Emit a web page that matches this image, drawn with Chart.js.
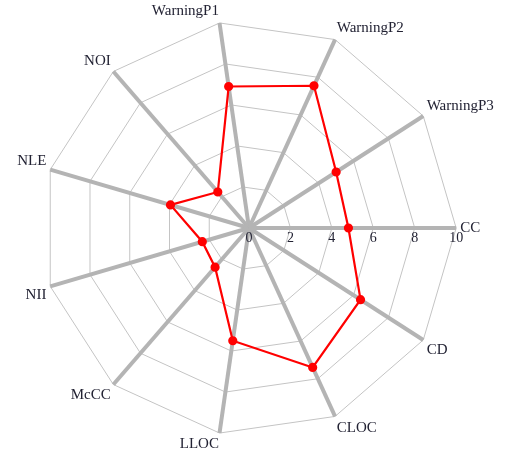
<!DOCTYPE html>
<html>
<head>
<meta charset="utf-8">
<script src="https://cdn.jsdelivr.net/npm/chart.js@4"></script>
<style>
  html, body { margin: 0; padding: 0; background: #ffffff; }
  #wrap { width: 506px; height: 453px; position: relative; }
</style>
</head>
<body>
<div id="wrap"><canvas id="c"></canvas></div>
<script>
const categories = ['CC', 'CD', 'CLOC', 'LLOC', 'McCC', 'NII', 'NLE', 'NOI', 'WarningP1', 'WarningP2', 'WarningP3'];
const seriesValues = [4.8, 6.4, 7.4, 5.5, 2.5, 2.35, 3.95, 2.3, 6.9, 7.55, 5.0];
const tickValues = [0, 2, 4, 6, 8, 10];
const tickLabels = ['0', '2', '4', '6', '8', '10'];

const serif = '"Liberation Serif", "DejaVu Serif", serif';

const tickLabelPlugin = {
  id: 'tickLabelPlugin',
  afterDatasetsDraw(chart) {
    const scale = chart.scales.r;
    const ctx = chart.ctx;
    ctx.save();
    ctx.font = '14px ' + serif;
    ctx.fillStyle = '#222233';
    ctx.textAlign = 'center';
    ctx.textBaseline = 'top';
    tickValues.forEach((v, i) => {
      const d = scale.getDistanceFromCenterForValue(v);
      ctx.fillText(tickLabels[i], scale.xCenter + d, scale.yCenter + 3);
    });
    ctx.restore();
  }
};

new Chart(document.getElementById('c'), {
  type: 'radar',
  data: {
    labels: categories,
    datasets: [{
      data: seriesValues,
      borderColor: '#ff0000',
      backgroundColor: '#ff0000',
      pointBackgroundColor: '#ff0000',
      pointBorderColor: '#ff0000',
      borderWidth: 2.2,
      pointRadius: 3.5,
      fill: false,
      tension: 0
    }]
  },
  options: {
    responsive: true,
    maintainAspectRatio: false,
    animation: false,
    layout: { padding: { top: 5, bottom: -5, left: 0, right: 0 } },
    plugins: { legend: { display: false }, tooltip: { enabled: false } },
    scales: {
      r: {
        min: 0,
        max: 10,
        startAngle: 90,
        ticks: { display: false, stepSize: 2 },
        grid: { color: '#c4c4c4', lineWidth: 1, circular: false },
        angleLines: { color: '#b4b4b4', lineWidth: 4 },
        pointLabels: {
          font: { family: serif, size: 15, lineHeight: 1.0 },
          color: '#222233',
          padding: 4
        }
      }
    }
  },
  plugins: [tickLabelPlugin]
});
</script>
</body>
</html>
